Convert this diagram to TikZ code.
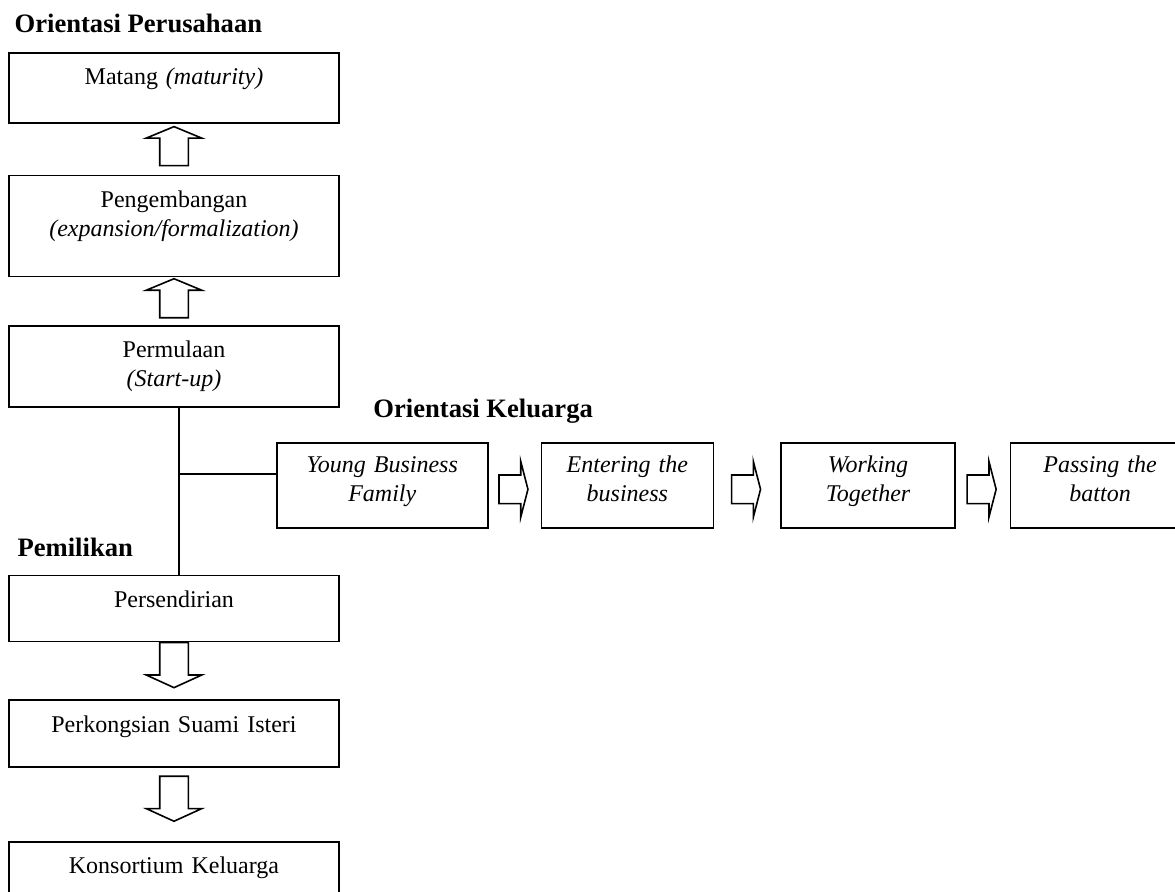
\documentclass[tikz,border=0pt]{standalone}
\usepackage{fontspec}
\setmainfont{Liberation Serif}
\usepackage{tikz}
\usetikzlibrary{shapes.geometric, shapes.arrows, arrows, positioning, calc}
\tikzstyle{box} = [rectangle, draw=black, line width=0.8pt, inner sep=0pt, align=center, font=\fontsize{12}{14.5}\selectfont]
\tikzstyle{tahap} = [box, minimum width=165pt, text width=165pt, text height=16pt]
\tikzstyle{keluarga} = [box, minimum height=42.5pt, text height=15pt, text depth=27.5pt, font=\fontsize{12}{14.5}\selectfont\itshape]
\tikzstyle{judul} = [inner sep=0pt, anchor=base west, font=\fontsize{13.3}{16}\selectfont\bfseries]
\tikzstyle{naik} = [single arrow, draw=black, line width=0.8pt, inner xsep=6.75pt, inner ysep=0pt, shape border rotate=90, minimum height=19.5pt, minimum width=27pt, single arrow head extend=6.75pt, single arrow tip angle=135]
\tikzstyle{turun} = [naik, shape border rotate=270, minimum height=22.5pt, single arrow tip angle=131, yshift=4.5pt]
\tikzstyle{kanan} = [naik, inner xsep=0pt, inner ysep=6.75pt, shape border rotate=0, minimum height=14.5pt, single arrow tip angle=151, xshift=-1.5pt, yshift=-2pt]
\tikzstyle{line} = [line width=0.8pt]

\begin{document}
\begin{tikzpicture}
\useasboundingbox (0,0) rectangle (587.5pt,-446pt);
\clip (0,0) rectangle (587.5pt,-446pt);
\node (matang) [tahap, anchor=north, text depth=19pt] at (87pt,-26pt) {Matang \textit{(maturity)}};
\node (kembang) [tahap, below=25.5pt of matang, text depth=34.5pt] {Pengembangan\\\textit{(expansion/formalization)}};
\node (mula) [tahap, below=24pt of kembang, text depth=24.5pt] {Permulaan\\\textit{(Start-up)}};
\node (sendiri) [tahap, below=83.5pt of mula, text depth=17pt] {Persendirian};
\node (kongsi) [tahap, below=28.5pt of sendiri, text depth=17.5pt] {Perkongsian Suami Isteri};
\node (konsortium) [tahap, below=36.5pt of kongsi, text depth=19pt] {Konsortium Keluarga};

\node (naik1) [naik] at ($(matang.south)!0.5!(kembang.north)$) {};
\node (naik2) [naik] at ($(kembang.south)!0.5!(mula.north)$) {};
\node (turun1) [turun] at ($(sendiri.south)!0.5!(kongsi.north)$) {};
\node (turun2) [turun] at ($(kongsi.south)!0.5!(konsortium.north)$) {};

\node (young) [keluarga, anchor=north west, minimum width=105.5pt, text width=105.5pt] at (138pt,-221pt) {Young Business\\Family};
\node (entering) [keluarga, right=26pt of young, minimum width=86pt, text width=86pt] {Entering the\\business};
\node (working) [keluarga, right=33pt of entering, minimum width=87pt, text width=87pt] {Working\\Together};
\node (passing) [keluarga, right=27pt of working, minimum width=89.5pt, text width=89.5pt] {Passing the\\batton};

\node (kanan1) [kanan] at ($(young.east)!0.5!(entering.west)$) {};
\node (kanan2) [kanan] at ($(entering.east)!0.5!(working.west)$) {};
\node (kanan3) [kanan] at ($(working.east)!0.5!(passing.west)$) {};

\node (judulusaha) [judul] at ([xshift=3pt,yshift=9.5pt]matang.north west) {Orientasi Perusahaan};
\node (judulmilik) [judul] at ([xshift=4.5pt,yshift=9pt]sendiri.north west) {Pemilikan};
\node (judulkeluarga) [judul] at ([xshift=48.5pt,yshift=12pt]young.north west) {Orientasi Keluarga};

\coordinate (atas) at ([xshift=2.5pt]mula.south);
\coordinate (bawah) at ([xshift=2.5pt]sendiri.north);
\coordinate (cabang) at ([yshift=5.75pt]young.west);
\draw [line] (atas) -- (bawah);
\draw [line] (cabang) -- (cabang -| atas);
\end{tikzpicture}
\end{document}
